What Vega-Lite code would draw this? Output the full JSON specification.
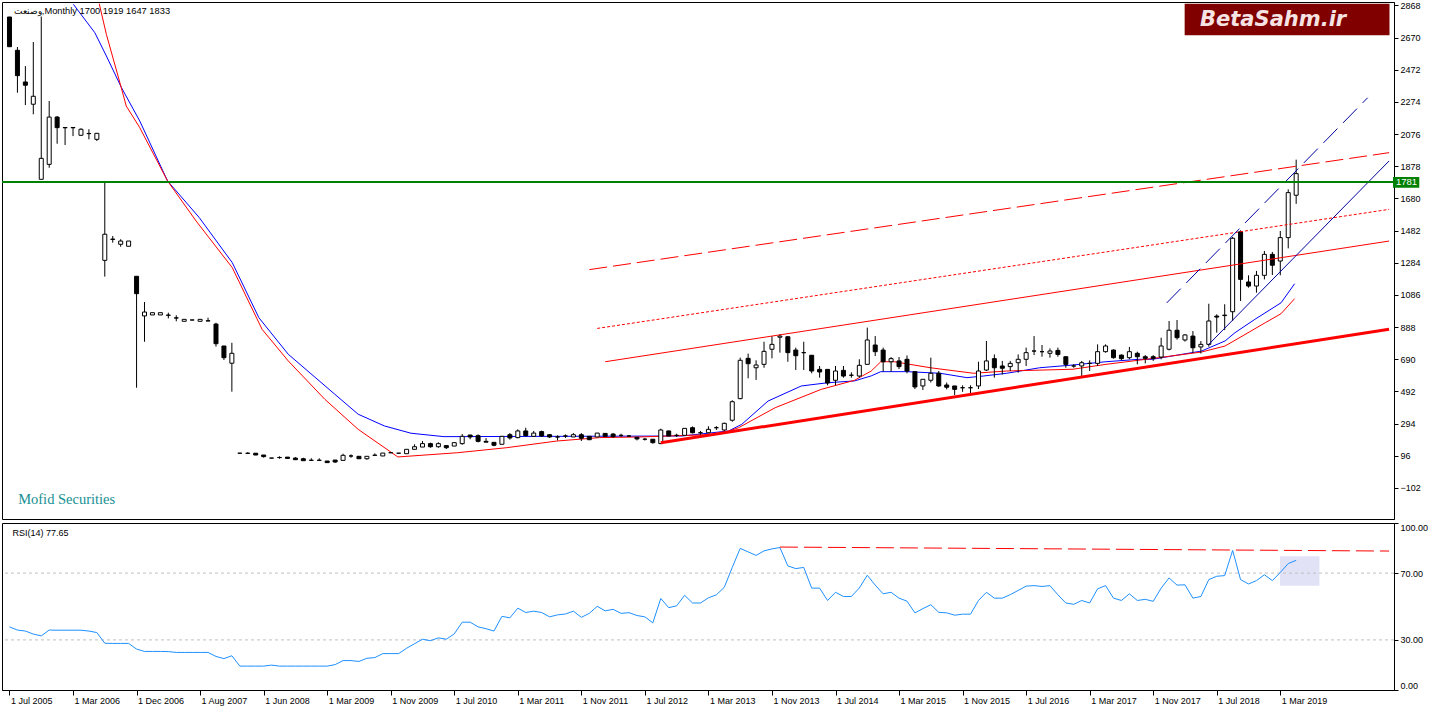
{
  "$schema": "https://vega.github.io/schema/vega-lite/v6.json",
  "padding": 0,
  "autosize": {"type": "pad"},
  "background": "white",
  "spacing": 2,
  "config": {
    "view": {"stroke": "#000", "strokeWidth": 1},
    "axis": {"labelFont": "Liberation Sans", "labelFontSize": 9, "labelColor": "#000", "domainColor": "#000", "tickColor": "#000", "domainWidth": 1, "tickWidth": 1, "grid": false, "labelOverlap": false}
  },
  "datasets": {
    "candles": [
      {"i":0,"o":2797,"h":2797,"l":2614,"c":2614},{"i":1,"o":2592,"h":2612,"l":2331,"c":2436},{"i":2,"o":2397,"h":2495,"l":2255,"c":2377},{"i":3,"o":2260,"h":2643,"l":2198,"c":2309},{"i":4,"o":1798,"h":2800,"l":1798,"c":1927},{"i":5,"o":1890,"h":2280,"l":1869,"c":2181},{"i":6,"o":2181,"h":2188,"l":2017,"c":2116},{"i":7,"o":2117,"h":2118,"l":2009,"c":2115},{"i":8,"o":2117,"h":2118,"l":2064,"c":2115},{"i":9,"o":2069,"h":2112,"l":2066,"c":2106},
      {"i":10,"o":2080,"h":2106,"l":2044,"c":2079},{"i":11,"o":2044,"h":2083,"l":2034,"c":2081},{"i":12,"o":1299,"h":1777,"l":1199,"c":1460},{"i":13,"o":1430,"h":1449,"l":1408,"c":1428},{"i":14,"o":1398,"h":1429,"l":1383,"c":1418},{"i":15,"o":1386,"h":1418,"l":1386,"c":1418},{"i":16,"o":1201,"h":1201,"l":515,"c":1094},{"i":17,"o":957,"h":1043,"l":798,"c":981},{"i":18,"o":963,"h":977,"l":963,"c":977},{"i":19,"o":963,"h":977,"l":963,"c":977},
      {"i":20,"o":962,"h":977,"l":942,"c":961},{"i":21,"o":945,"h":961,"l":924,"c":944},{"i":22,"o":924,"h":936,"l":924,"c":936},{"i":23,"o":932,"h":933,"l":931,"c":932},{"i":24,"o":924,"h":936,"l":924,"c":936},{"i":25,"o":927,"h":946,"l":926,"c":926},{"i":26,"o":907,"h":915,"l":768,"c":786},{"i":27,"o":772,"h":772,"l":686,"c":700},{"i":28,"o":666,"h":792,"l":491,"c":727},{"i":29,"o":112,"h":113,"l":111,"c":112},
      {"i":30,"o":111,"h":118,"l":108,"c":112},{"i":31,"o":112,"h":113,"l":100,"c":101},{"i":32,"o":101,"h":101,"l":85,"c":91},{"i":33,"o":82,"h":83,"l":81,"c":82},{"i":34,"o":85,"h":93,"l":78,"c":86},{"i":35,"o":88,"h":88,"l":80,"c":80},{"i":36,"o":82,"h":88,"l":72,"c":72},{"i":37,"o":78,"h":84,"l":66,"c":66},{"i":38,"o":68,"h":81,"l":68,"c":69},{"i":39,"o":68,"h":81,"l":68,"c":69},
      {"i":40,"o":64,"h":64,"l":54,"c":54},{"i":41,"o":70,"h":70,"l":52,"c":58},{"i":42,"o":68,"h":109,"l":68,"c":99},{"i":43,"o":95,"h":105,"l":84,"c":95},{"i":44,"o":93,"h":93,"l":78,"c":78},{"i":45,"o":78,"h":93,"l":72,"c":93},{"i":46,"o":99,"h":111,"l":99,"c":100},{"i":47,"o":95,"h":113,"l":95,"c":113},{"i":48,"o":115,"h":117,"l":113,"c":115},{"i":49,"o":112,"h":113,"l":111,"c":112},
      {"i":50,"o":109,"h":136,"l":109,"c":136},{"i":51,"o":136,"h":167,"l":136,"c":152},{"i":52,"o":150,"h":187,"l":150,"c":171},{"i":53,"o":171,"h":177,"l":146,"c":152},{"i":54,"o":152,"h":179,"l":146,"c":171},{"i":55,"o":159,"h":159,"l":138,"c":146},{"i":56,"o":156,"h":177,"l":156,"c":177},{"i":57,"o":171,"h":230,"l":164,"c":216},{"i":58,"o":224,"h":224,"l":198,"c":212},{"i":59,"o":220,"h":228,"l":179,"c":185},
      {"i":60,"o":185,"h":205,"l":180,"c":180},{"i":61,"o":179,"h":179,"l":155,"c":161},{"i":62,"o":167,"h":216,"l":167,"c":216},{"i":63,"o":226,"h":236,"l":196,"c":206},{"i":64,"o":208,"h":259,"l":204,"c":249},{"i":65,"o":249,"h":269,"l":216,"c":220},{"i":66,"o":216,"h":249,"l":212,"c":236},{"i":67,"o":245,"h":251,"l":212,"c":218},{"i":68,"o":226,"h":230,"l":206,"c":212},{"i":69,"o":212,"h":222,"l":191,"c":212},
      {"i":70,"o":218,"h":228,"l":206,"c":218},{"i":71,"o":212,"h":236,"l":212,"c":226},{"i":72,"o":226,"h":236,"l":187,"c":204},{"i":73,"o":216,"h":216,"l":195,"c":195},{"i":74,"o":212,"h":236,"l":212,"c":236},{"i":75,"o":234,"h":234,"l":216,"c":216},{"i":76,"o":230,"h":236,"l":208,"c":214},{"i":77,"o":222,"h":232,"l":212,"c":222},{"i":78,"o":218,"h":222,"l":212,"c":218},{"i":79,"o":210,"h":210,"l":191,"c":200},
      {"i":80,"o":198,"h":206,"l":190,"c":198},{"i":81,"o":198,"h":198,"l":171,"c":177},{"i":82,"o":171,"h":263,"l":171,"c":255},{"i":83,"o":249,"h":251,"l":218,"c":218},{"i":84,"o":222,"h":232,"l":212,"c":222},{"i":85,"o":222,"h":265,"l":222,"c":265},{"i":86,"o":269,"h":277,"l":234,"c":238},{"i":87,"o":238,"h":249,"l":226,"c":238},{"i":88,"o":238,"h":278,"l":238,"c":259},{"i":89,"o":269,"h":279,"l":255,"c":269},
      {"i":90,"o":255,"h":300,"l":249,"c":296},{"i":91,"o":315,"h":438,"l":306,"c":429},{"i":92,"o":448,"h":700,"l":444,"c":684},{"i":93,"o":696,"h":725,"l":573,"c":663},{"i":94,"o":638,"h":684,"l":563,"c":655},{"i":95,"o":659,"h":798,"l":638,"c":739},{"i":96,"o":752,"h":833,"l":696,"c":782},{"i":97,"o":826,"h":845,"l":731,"c":833},{"i":98,"o":829,"h":829,"l":675,"c":731},{"i":99,"o":747,"h":762,"l":624,"c":712},
      {"i":100,"o":731,"h":798,"l":624,"c":731},{"i":101,"o":715,"h":715,"l":604,"c":618},{"i":102,"o":628,"h":649,"l":577,"c":612},{"i":103,"o":628,"h":628,"l":530,"c":544},{"i":104,"o":561,"h":649,"l":530,"c":618},{"i":105,"o":622,"h":649,"l":577,"c":587},{"i":106,"o":592,"h":610,"l":577,"c":592},{"i":107,"o":587,"h":690,"l":577,"c":653},{"i":108,"o":659,"h":885,"l":659,"c":809},{"i":109,"o":778,"h":833,"l":710,"c":737},
      {"i":110,"o":747,"h":762,"l":614,"c":675},{"i":111,"o":675,"h":704,"l":614,"c":694},{"i":112,"o":680,"h":704,"l":630,"c":645},{"i":113,"o":690,"h":714,"l":604,"c":618},{"i":114,"o":614,"h":614,"l":507,"c":520},{"i":115,"o":526,"h":567,"l":501,"c":567},{"i":116,"o":561,"h":700,"l":547,"c":604},{"i":117,"o":604,"h":618,"l":520,"c":526},{"i":118,"o":532,"h":547,"l":505,"c":518},{"i":119,"o":526,"h":526,"l":470,"c":505},
      {"i":120,"o":515,"h":530,"l":490,"c":515},{"i":121,"o":515,"h":530,"l":479,"c":515},{"i":122,"o":526,"h":675,"l":507,"c":618},{"i":123,"o":624,"h":803,"l":618,"c":680},{"i":124,"o":694,"h":720,"l":577,"c":638},{"i":125,"o":649,"h":680,"l":597,"c":635},{"i":126,"o":645,"h":680,"l":618,"c":665},{"i":127,"o":669,"h":720,"l":608,"c":690},{"i":128,"o":690,"h":762,"l":649,"c":731},{"i":129,"o":741,"h":833,"l":716,"c":741},
      {"i":130,"o":737,"h":778,"l":706,"c":737},{"i":131,"o":727,"h":757,"l":700,"c":741},{"i":132,"o":745,"h":762,"l":706,"c":720},{"i":133,"o":706,"h":706,"l":638,"c":659},{"i":134,"o":649,"h":659,"l":638,"c":649},{"i":135,"o":649,"h":680,"l":587,"c":669},{"i":136,"o":665,"h":684,"l":618,"c":665},{"i":137,"o":665,"h":782,"l":649,"c":737},{"i":138,"o":737,"h":782,"l":731,"c":772},{"i":139,"o":747,"h":751,"l":694,"c":700},
      {"i":140,"o":716,"h":720,"l":684,"c":694},{"i":141,"o":700,"h":766,"l":690,"c":737},{"i":142,"o":727,"h":737,"l":659,"c":706},{"i":143,"o":706,"h":716,"l":665,"c":696},{"i":144,"o":706,"h":716,"l":680,"c":696},{"i":145,"o":704,"h":823,"l":690,"c":772},{"i":146,"o":752,"h":926,"l":745,"c":869},{"i":147,"o":869,"h":932,"l":811,"c":823},{"i":148,"o":809,"h":845,"l":799,"c":840},{"i":149,"o":833,"h":864,"l":730,"c":761},
      {"i":150,"o":766,"h":802,"l":726,"c":782},{"i":151,"o":782,"h":1032,"l":768,"c":926},{"i":152,"o":956,"h":967,"l":854,"c":950},{"i":153,"o":959,"h":1029,"l":870,"c":962},{"i":154,"o":983,"h":1443,"l":926,"c":1435},{"i":155,"o":1475,"h":1484,"l":1049,"c":1182},{"i":156,"o":1166,"h":1207,"l":1131,"c":1141},{"i":157,"o":1141,"h":1234,"l":1100,"c":1207},{"i":158,"o":1207,"h":1357,"l":1182,"c":1336},{"i":159,"o":1336,"h":1351,"l":1209,"c":1269},
      {"i":160,"o":1295,"h":1480,"l":1207,"c":1439},{"i":161,"o":1439,"h":1736,"l":1373,"c":1716},{"i":162,"o":1700,"h":1919,"l":1647,"c":1833}
    ],
    "maBlue": [
      {"i":8.05,"v":2875},{"i":10.75,"v":2700},{"i":12.2,"v":2557},{"i":14.1,"v":2362},{"i":16.4,"v":2157},{"i":19.9,"v":1788},{"i":23.9,"v":1562},{"i":28.05,"v":1285},{"i":31.4,"v":946},{"i":35.1,"v":721},{"i":40.96,"v":475},{"i":43.9,"v":352},{"i":47.2,"v":280},{"i":50.55,"v":235},{"i":54.7,"v":214},{"i":84.7,"v":218},{"i":90.55,"v":249},{"i":92.2,"v":290},{"i":95.5,"v":433},{"i":99.7,"v":526},{"i":103.05,"v":546},{"i":106.4,"v":557},{"i":108.5,"v":588},{"i":109.7,"v":614},{"i":113.05,"v":614},{"i":117.2,"v":604},{"i":120.55,"v":577},{"i":122.6,"v":587},{"i":125.55,"v":604},{"i":129.7,"v":638},{"i":133.9,"v":655},{"i":138.05,"v":675},{"i":142.2,"v":690},{"i":143.9,"v":690},{"i":150.1,"v":741},{"i":153.05,"v":803},{"i":154.3,"v":854},{"i":156.8,"v":936},{"i":160.1,"v":1038},{"i":161.8,"v":1155}
    ],
    "maRed": [
      {"i":11.3,"v":2879},{"i":12.2,"v":2690},{"i":13.9,"v":2393},{"i":14.7,"v":2249},{"i":16.4,"v":2116},{"i":19.9,"v":1788},{"i":23.5,"v":1541},{"i":28.05,"v":1254},{"i":31.8,"v":875},{"i":35.1,"v":680},{"i":39.7,"v":444},{"i":43.9,"v":259},{"i":48.9,"v":89},{"i":56.4,"v":115},{"i":62.6,"v":146},{"i":68.9,"v":187},{"i":74.3,"v":208},{"i":79.3,"v":212},{"i":89.3,"v":228},{"i":91.8,"v":269},{"i":96.4,"v":392},{"i":102.2,"v":505},{"i":106.4,"v":561},{"i":108.5,"v":618},{"i":109.7,"v":675},{"i":111.4,"v":675},{"i":115.95,"v":638},{"i":121.4,"v":604},{"i":125.55,"v":618},{"i":133.9,"v":629},{"i":138.05,"v":659},{"i":144.7,"v":700},{"i":150.1,"v":735},{"i":153.05,"v":772},{"i":154.3,"v":807},{"i":158.1,"v":915},{"i":160.1,"v":971},{"i":161.8,"v":1063}
    ],
    "trend": [
      {"id":"thick","i":82,"v":177},{"id":"thick","i":173.7,"v":875},
      {"id":"solid","i":75,"v":675},{"id":"solid","i":173.7,"v":1418},
      {"id":"dot","i":74,"v":880},{"id":"dot","i":173.7,"v":1613},
      {"id":"dash","i":73,"v":1242},{"id":"dash","i":173.7,"v":1962},
      {"id":"blue","i":151,"v":782},{"id":"blue","i":173.7,"v":1911},
      {"id":"bluedash","i":145.7,"v":1037},{"id":"bluedash","i":171,"v":2300}
    ],
    "rsi": [
      {"i":0,"r":37.8},{"i":1,"r":35.9},{"i":2,"r":35.3},{"i":3,"r":33.5},{"i":4,"r":32.4},{"i":5,"r":35.9},{"i":6,"r":35.8},{"i":7,"r":35.8},{"i":8,"r":35.8},{"i":9,"r":35.8},
      {"i":10,"r":35.3},{"i":11,"r":34.4},{"i":12,"r":28.0},{"i":13,"r":27.9},{"i":14,"r":27.9},{"i":15,"r":27.9},{"i":16,"r":24.5},{"i":17,"r":23.1},{"i":18,"r":23.1},{"i":19,"r":23.1},
      {"i":20,"r":23.0},{"i":21,"r":22.5},{"i":22,"r":22.5},{"i":23,"r":22.5},{"i":24,"r":22.5},{"i":25,"r":22.5},{"i":26,"r":20.1},{"i":27,"r":18.8},{"i":28,"r":20.5},{"i":29,"r":14.3},
      {"i":30,"r":14.3},{"i":31,"r":14.3},{"i":32,"r":14.3},{"i":33,"r":14.9},{"i":34,"r":14.3},{"i":35,"r":14.3},{"i":36,"r":14.3},{"i":37,"r":14.3},{"i":38,"r":14.3},{"i":39,"r":14.3},
      {"i":40,"r":14.3},{"i":41,"r":15.2},{"i":42,"r":17.6},{"i":43,"r":17.6},{"i":44,"r":17.1},{"i":45,"r":19.0},{"i":46,"r":19.4},{"i":47,"r":21.8},{"i":48,"r":21.8},{"i":49,"r":21.8},
      {"i":50,"r":25.0},{"i":51,"r":27.7},{"i":52,"r":30.4},{"i":53,"r":29.5},{"i":54,"r":31.2},{"i":55,"r":30.4},{"i":56,"r":33.6},{"i":57,"r":40.6},{"i":58,"r":40.6},{"i":59,"r":37.8},
      {"i":60,"r":36.7},{"i":61,"r":35.3},{"i":62,"r":44.1},{"i":63,"r":43.2},{"i":64,"r":49.0},{"i":65,"r":46.4},{"i":66,"r":47.2},{"i":67,"r":46.4},{"i":68,"r":43.8},{"i":69,"r":45.0},
      {"i":70,"r":45.5},{"i":71,"r":47.2},{"i":72,"r":43.5},{"i":73,"r":45.9},{"i":74,"r":50.1},{"i":75,"r":47.4},{"i":76,"r":48.3},{"i":77,"r":45.9},{"i":78,"r":46.3},{"i":79,"r":44.6},
      {"i":80,"r":43.8},{"i":81,"r":40.2},{"i":82,"r":54.8},{"i":83,"r":49.3},{"i":84,"r":50.4},{"i":85,"r":56.7},{"i":86,"r":52.1},{"i":87,"r":52.1},{"i":88,"r":55.2},{"i":89,"r":57.0},
      {"i":90,"r":61.5},{"i":91,"r":73.4},{"i":92,"r":84.8},{"i":93,"r":82.7},{"i":94,"r":80.6},{"i":95,"r":83.3},{"i":96,"r":84.5},{"i":97,"r":85.3},{"i":98,"r":74.3},{"i":99,"r":72.7},
      {"i":100,"r":73.4},{"i":101,"r":61.0},{"i":102,"r":61.0},{"i":103,"r":53.6},{"i":104,"r":58.5},{"i":105,"r":56.0},{"i":106,"r":56.0},{"i":107,"r":61.1},{"i":108,"r":68.7},{"i":109,"r":62.8},
      {"i":110,"r":57.6},{"i":111,"r":58.5},{"i":112,"r":55.0},{"i":113,"r":53.2},{"i":114,"r":46.2},{"i":115,"r":48.7},{"i":116,"r":51.1},{"i":117,"r":46.5},{"i":118,"r":46.2},{"i":119,"r":44.8},
      {"i":120,"r":45.4},{"i":121,"r":45.4},{"i":122,"r":53.6},{"i":123,"r":58.5},{"i":124,"r":55.0},{"i":125,"r":55.0},{"i":126,"r":57.1},{"i":127,"r":59.6},{"i":128,"r":62.2},{"i":129,"r":62.5},
      {"i":130,"r":62.0},{"i":131,"r":62.5},{"i":132,"r":57.0},{"i":133,"r":52.1},{"i":134,"r":51.3},{"i":135,"r":53.6},{"i":136,"r":52.1},{"i":137,"r":60.6},{"i":138,"r":62.5},{"i":139,"r":55.0},
      {"i":140,"r":53.6},{"i":141,"r":57.6},{"i":142,"r":53.6},{"i":143,"r":54.3},{"i":144,"r":53.1},{"i":145,"r":61.0},{"i":146,"r":67.1},{"i":147,"r":62.8},{"i":148,"r":63.0},{"i":149,"r":55.0},
      {"i":150,"r":56.0},{"i":151,"r":66.1},{"i":152,"r":68.1},{"i":153,"r":68.5},{"i":154,"r":83.6},{"i":155,"r":66.1},{"i":156,"r":63.5},{"i":157,"r":65.5},{"i":158,"r":69.0},{"i":159,"r":65.5},
      {"i":160,"r":70.4},{"i":161,"r":75.7},{"i":162,"r":77.65}
    ],
    "rsiTrend": [{"i":97,"r":85.6},{"i":173.7,"r":83.2}],
    "rsiBox": [{"i":159.96,"i2":164.93,"r":62.5,"r2":80.1}],
    "levels": [{"lvl":30},{"lvl":70}],
    "mainText": [{"i":0.55,"v":2817,"t":"وصنعت,Monthly  1700 1919 1647 1833"}],
    "brand": [{"i":1.09,"v":-199,"t":"Mofid Securities"}],
    "logo": [{"i":147.96,"i2":173.75,"v":2684,"v2":2878.8,"tx":159.1,"ty":2741.5,"t":"BetaSahm.ir"}],
    "lastLine": [{"i":174.19,"i2":177.5,"v":1746,"v2":1812,"tx":174.56,"val":1781}],
    "rsiText": [{"i":0.375,"r":92.5,"t":"RSI(14) 77.65"}]
  },
  "vconcat": [
    {
      "width": 1392,
      "height": 517,
      "layer": [
        {
          "data": {"name": "maBlue"},
          "mark": {"type": "line", "color": "#0000ff", "strokeWidth": 1, "clip": true},
          "encoding": {
            "x": {"field": "i", "type": "quantitative", "scale": {"domain": [-0.3125, 173.6875], "nice": false, "zero": false}, "axis": null},
            "y": {"field": "v", "type": "quantitative", "scale": {"domain": [-292.9, 2889.3], "nice": false, "zero": false}, "title": null,
                  "axis": {"orient": "right", "values": [2868, 2670, 2472, 2274, 2076, 1878, 1680, 1482, 1284, 1086, 888, 690, 492, 294, 96, -102], "tickCount": 40, "format": "d", "tickSize": 4, "labelPadding": 2, "labelFlush": false, "labelOverlap": false, "labelBaseline": "middle", "title": null, "grid": false}}
          }
        },
        {
          "data": {"name": "maRed"},
          "mark": {"type": "line", "color": "#ff0000", "strokeWidth": 1, "clip": true},
          "encoding": {
            "x": {"field": "i", "type": "quantitative", "axis": null},
            "y": {"field": "v", "type": "quantitative", "title": null}
          }
        },
        {
          "data": {"name": "candles"},
          "mark": {"type": "rule", "color": "#000", "strokeWidth": 1, "clip": true},
          "encoding": {
            "x": {"field": "i", "type": "quantitative", "axis": null},
            "y": {"field": "l", "type": "quantitative", "title": null},
            "y2": {"field": "h"}
          }
        },
        {
          "data": {"name": "candles"},
          "mark": {"type": "bar", "size": 4, "stroke": "#000", "strokeWidth": 1, "clip": true},
          "encoding": {
            "x": {"field": "i", "type": "quantitative", "axis": null},
            "y": {"field": "o", "type": "quantitative", "title": null},
            "y2": {"field": "c"},
            "fill": {"condition": {"test": "datum.c >= datum.o", "value": "#ffffff"}, "value": "#000000"}
          }
        },
        {
          "data": {"name": "trend"},
          "transform": [{"filter": "datum.id == 'thick'"}],
          "mark": {"type": "line", "color": "#ff0000", "strokeWidth": 3, "clip": true},
          "encoding": {"x": {"field": "i", "type": "quantitative", "axis": null}, "y": {"field": "v", "type": "quantitative", "title": null}}
        },
        {
          "data": {"name": "trend"},
          "transform": [{"filter": "datum.id == 'solid'"}],
          "mark": {"type": "line", "color": "#ff0000", "strokeWidth": 1, "clip": true},
          "encoding": {"x": {"field": "i", "type": "quantitative", "axis": null}, "y": {"field": "v", "type": "quantitative", "title": null}}
        },
        {
          "data": {"name": "trend"},
          "transform": [{"filter": "datum.id == 'dot'"}],
          "mark": {"type": "line", "color": "#ff0000", "strokeWidth": 1, "strokeDash": [3, 2], "clip": true},
          "encoding": {"x": {"field": "i", "type": "quantitative", "axis": null}, "y": {"field": "v", "type": "quantitative", "title": null}}
        },
        {
          "data": {"name": "trend"},
          "transform": [{"filter": "datum.id == 'dash'"}],
          "mark": {"type": "line", "color": "#ff0000", "strokeWidth": 1, "strokeDash": [18, 6], "clip": true},
          "encoding": {"x": {"field": "i", "type": "quantitative", "axis": null}, "y": {"field": "v", "type": "quantitative", "title": null}}
        },
        {
          "data": {"name": "trend"},
          "transform": [{"filter": "datum.id == 'blue'"}],
          "mark": {"type": "line", "color": "#0000a0", "strokeWidth": 1, "clip": true},
          "encoding": {"x": {"field": "i", "type": "quantitative", "axis": null}, "y": {"field": "v", "type": "quantitative", "title": null}}
        },
        {
          "data": {"name": "trend"},
          "transform": [{"filter": "datum.id == 'bluedash'"}],
          "mark": {"type": "line", "color": "#0000a0", "strokeWidth": 1, "strokeDash": [20, 8], "clip": true},
          "encoding": {"x": {"field": "i", "type": "quantitative", "axis": null}, "y": {"field": "v", "type": "quantitative", "title": null}}
        },
        {
          "data": {"name": "lastLine"},
          "mark": {"type": "rule", "color": "#008000", "strokeWidth": 2},
          "encoding": {"y": {"field": "val", "type": "quantitative", "title": null}}
        },
        {
          "data": {"name": "lastLine"},
          "mark": {"type": "rect", "color": "#008000"},
          "encoding": {
            "x": {"field": "i", "type": "quantitative", "axis": null}, "x2": {"field": "i2"},
            "y": {"field": "v", "type": "quantitative", "title": null}, "y2": {"field": "v2"}
          }
        },
        {
          "data": {"name": "lastLine"},
          "mark": {"type": "text", "color": "#ffffff", "font": "Liberation Sans", "fontSize": 9.5, "align": "left", "baseline": "middle"},
          "encoding": {
            "x": {"field": "tx", "type": "quantitative", "axis": null},
            "y": {"field": "val", "type": "quantitative", "title": null},
            "text": {"field": "val", "type": "quantitative"}
          }
        },
        {
          "data": {"name": "mainText"},
          "mark": {"type": "text", "color": "#000", "font": "Liberation Sans", "fontSize": 9.3, "align": "left", "baseline": "alphabetic"},
          "encoding": {
            "x": {"field": "i", "type": "quantitative", "axis": null},
            "y": {"field": "v", "type": "quantitative", "title": null},
            "text": {"field": "t"}
          }
        },
        {
          "data": {"name": "brand"},
          "mark": {"type": "text", "color": "#168f93", "font": "Liberation Serif", "fontSize": 14.5, "align": "left", "baseline": "alphabetic"},
          "encoding": {
            "x": {"field": "i", "type": "quantitative", "axis": null},
            "y": {"field": "v", "type": "quantitative", "title": null},
            "text": {"field": "t"}
          }
        },
        {
          "data": {"name": "logo"},
          "mark": {"type": "rect", "color": "#800000"},
          "encoding": {
            "x": {"field": "i", "type": "quantitative", "axis": null}, "x2": {"field": "i2"},
            "y": {"field": "v", "type": "quantitative", "title": null}, "y2": {"field": "v2"}
          }
        },
        {
          "data": {"name": "logo"},
          "mark": {"type": "text", "color": "#f6e4e4", "font": "DejaVu Sans", "fontSize": 21, "fontWeight": "bold", "fontStyle": "italic", "align": "center", "baseline": "alphabetic"},
          "encoding": {
            "x": {"field": "tx", "type": "quantitative", "axis": null},
            "y": {"field": "ty", "type": "quantitative", "title": null},
            "text": {"field": "t"}
          }
        }
      ]
    },
    {
      "width": 1392,
      "height": 167,
      "layer": [
        {
          "data": {"name": "rsiBox"},
          "mark": {"type": "rect", "color": "#e2e2f7"},
          "encoding": {
            "x": {"field": "i", "type": "quantitative", "scale": {"domain": [-0.3125, 173.6875], "nice": false, "zero": false}, "title": null,
                  "axis": {"orient": "bottom", "values": [0, 8, 16, 24, 32, 40, 48, 56, 64, 72, 80, 88, 96, 104, 112, 120, 128, 136, 144, 152, 160], "tickCount": 60,
                           "labelExpr": "['1 Jul 2005','1 Mar 2006','1 Dec 2006','1 Aug 2007','1 Jun 2008','1 Mar 2009','1 Nov 2009','1 Jul 2010','1 Mar 2011','1 Nov 2011','1 Jul 2012','1 Mar 2013','1 Nov 2013','1 Jul 2014','1 Mar 2015','1 Nov 2015','1 Jul 2016','1 Mar 2017','1 Nov 2017','1 Jul 2018','1 Mar 2019'][round(datum.value / 8)]",
                           "labelAlign": "left", "labelBaseline": "top", "labelOffset": 1, "labelPadding": 1, "tickSize": 5, "labelFlush": false, "labelOverlap": false, "title": null, "grid": false}},
            "x2": {"field": "i2"},
            "y": {"field": "r", "type": "quantitative", "scale": {"domain": [0, 100], "nice": false, "zero": false}, "title": null,
                  "axis": {"orient": "right", "values": [0, 30, 70, 100], "tickCount": 20, "format": ".2f", "tickSize": 4, "labelPadding": 2, "labelFlush": true, "labelOverlap": false, "title": null, "grid": false}},
            "y2": {"field": "r2"}
          }
        },
        {
          "data": {"name": "levels"},
          "mark": {"type": "rule", "color": "#c0c0c0", "strokeWidth": 1, "strokeDash": [3, 3]},
          "encoding": {"y": {"field": "lvl", "type": "quantitative", "title": null}}
        },
        {
          "data": {"name": "rsi"},
          "mark": {"type": "line", "color": "#1e90ff", "strokeWidth": 1, "clip": true},
          "encoding": {
            "x": {"field": "i", "type": "quantitative", "title": null},
            "y": {"field": "r", "type": "quantitative", "title": null}
          }
        },
        {
          "data": {"name": "rsiTrend"},
          "mark": {"type": "line", "color": "#ff0000", "strokeWidth": 1, "strokeDash": [18, 6], "clip": true},
          "encoding": {
            "x": {"field": "i", "type": "quantitative", "title": null},
            "y": {"field": "r", "type": "quantitative", "title": null}
          }
        },
        {
          "data": {"name": "rsiText"},
          "mark": {"type": "text", "color": "#000", "font": "Liberation Sans", "fontSize": 9, "align": "left", "baseline": "alphabetic"},
          "encoding": {
            "x": {"field": "i", "type": "quantitative", "title": null},
            "y": {"field": "r", "type": "quantitative", "title": null},
            "text": {"field": "t"}
          }
        }
      ]
    }
  ],
  "resolve": {"scale": {"x": "shared"}}
}
